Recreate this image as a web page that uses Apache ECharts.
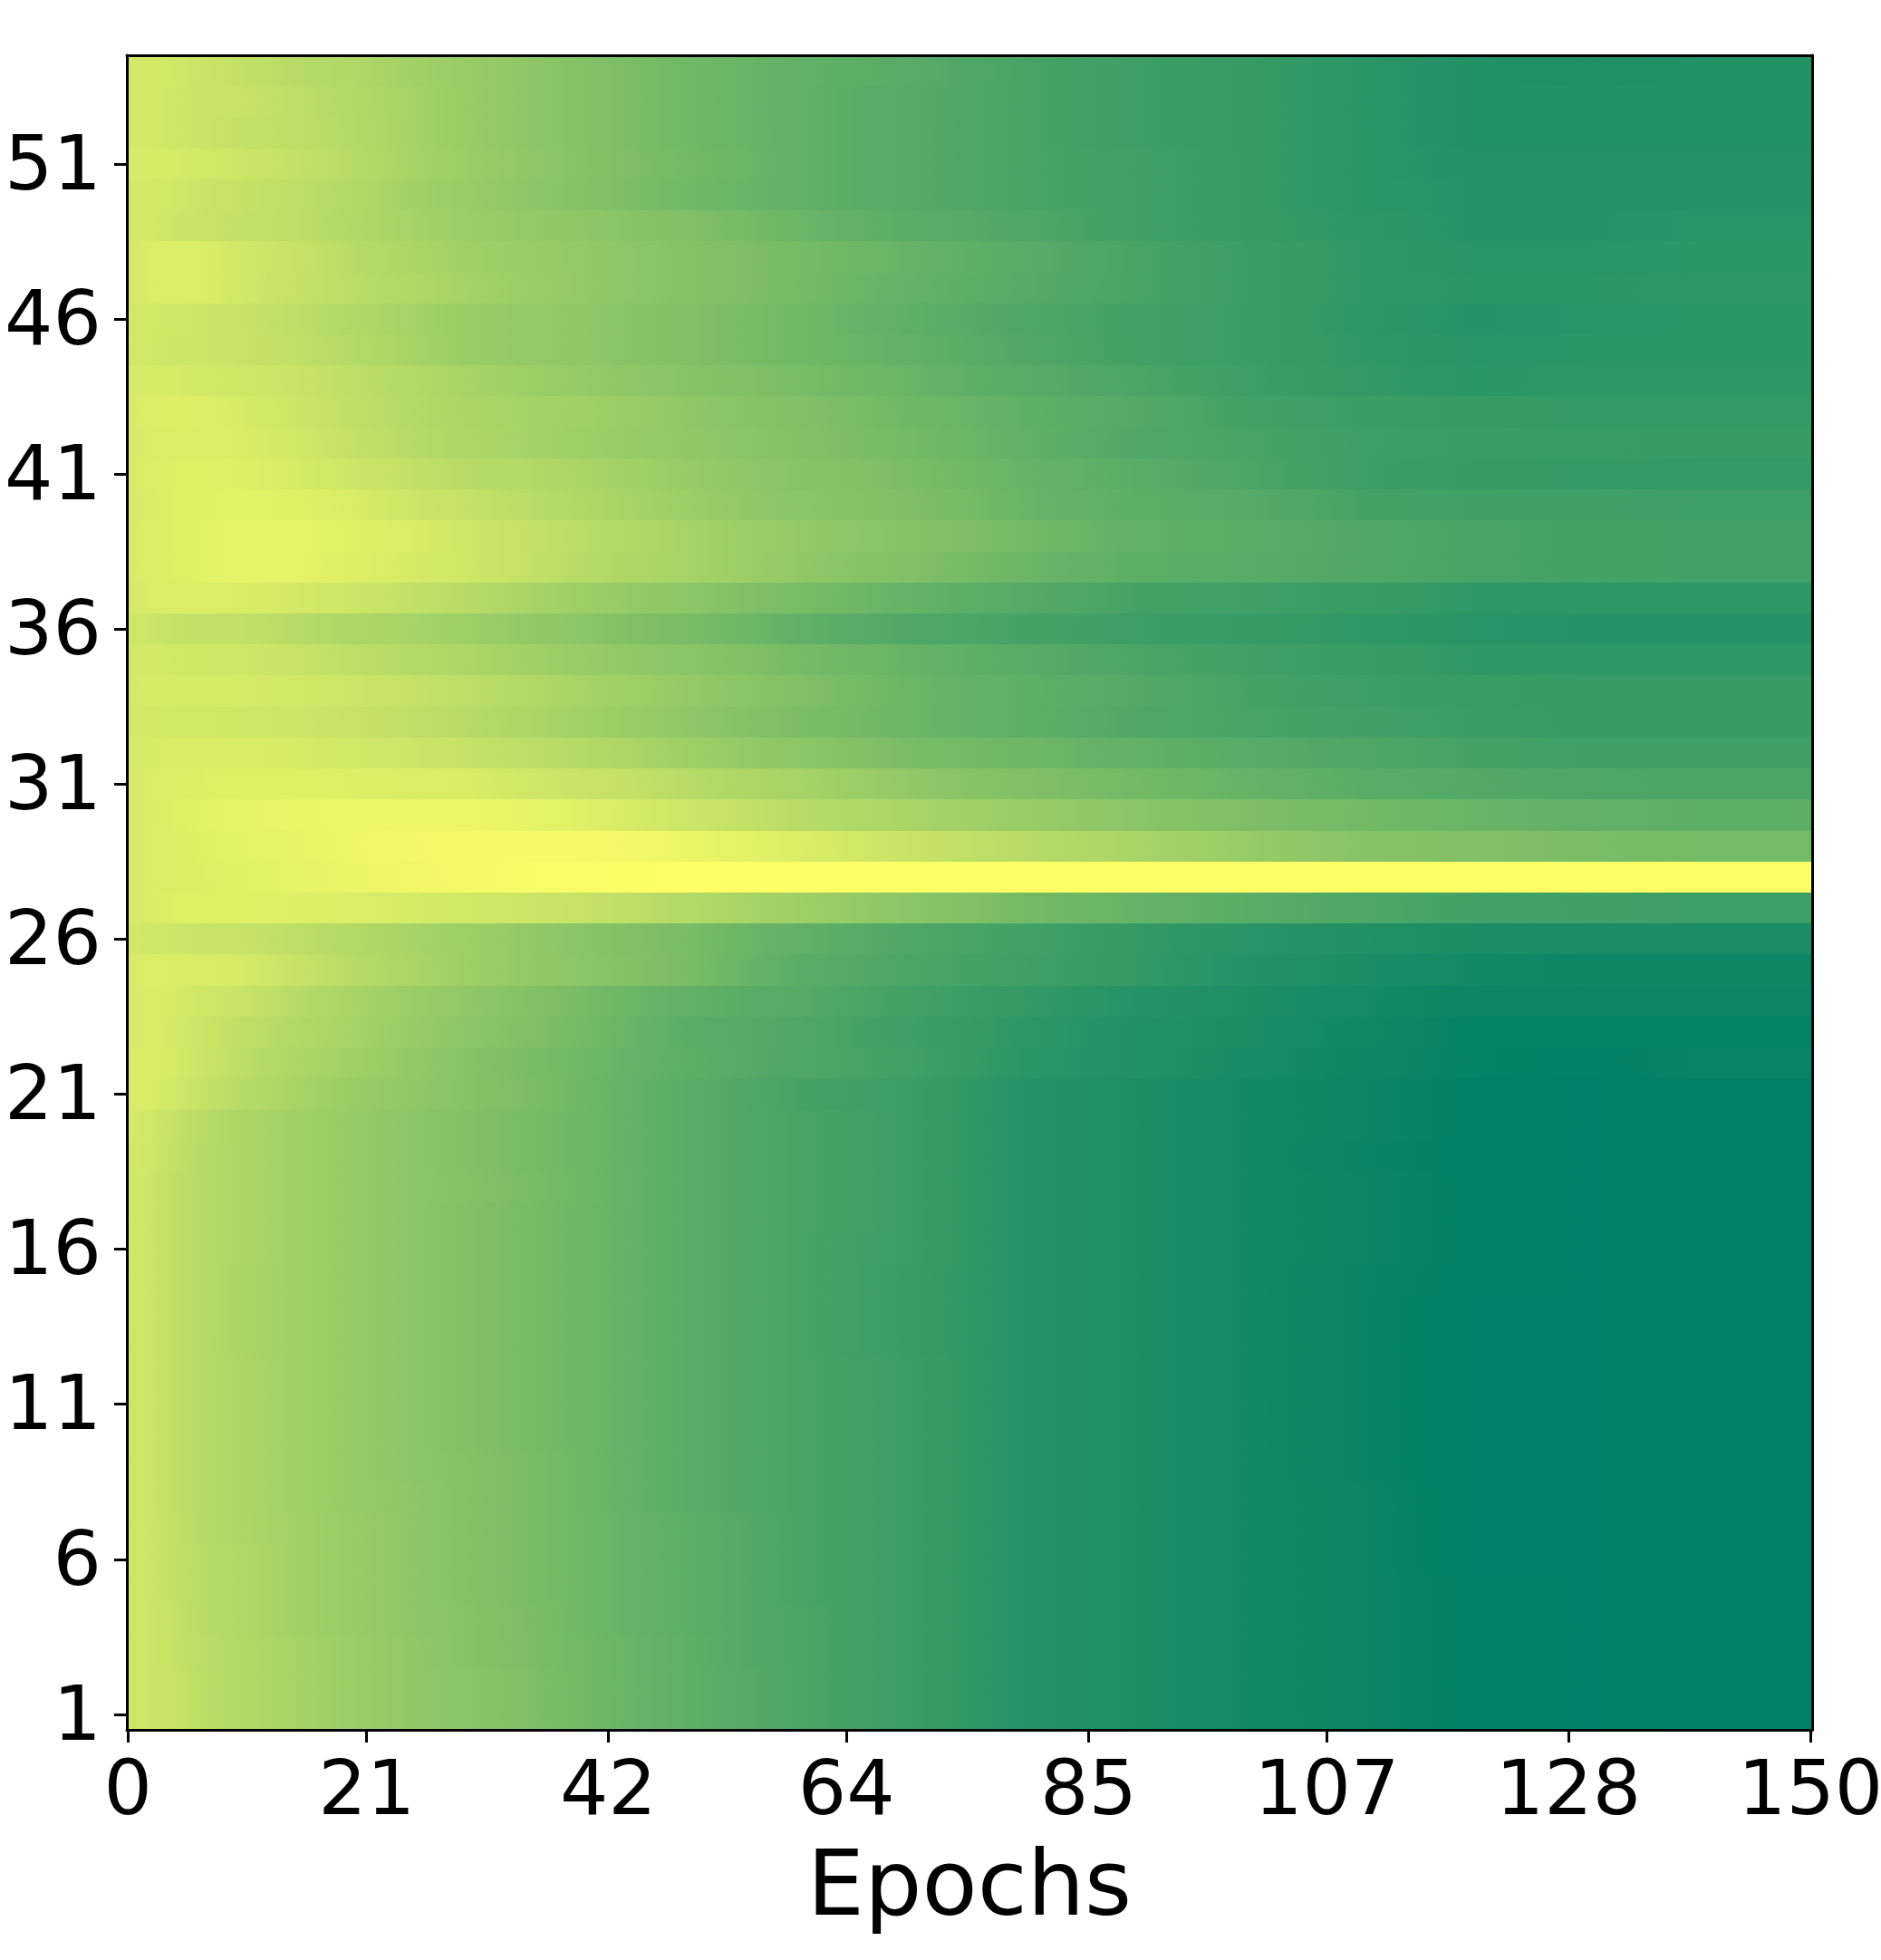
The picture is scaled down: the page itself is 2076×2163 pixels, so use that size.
<!DOCTYPE html>
<html>
<head>
<meta charset="utf-8">
<title>Epochs heatmap</title>
<script src="https://cdn.jsdelivr.net/npm/echarts@6/dist/echarts.min.js"></script>
<style>
  html, body { margin: 0; padding: 0; background: #fff; }
  #chart { width: 2076px; height: 2163px; }
</style>
</head>
<body>
<div id="chart"></div>
<script>
  // tick marks (position on the epoch scale, and the printed label)
  const xTickPos = [0.1, 21.35, 42.85, 64.05, 85.6, 106.8, 128.3, 149.85];
  const xTickLabels = ['0', '21', '42', '64', '85', '107', '128', '150'];
  const yTicks = [1, 6, 11, 16, 21, 26, 31, 36, 41, 46, 51];

  // epochs the colours were sampled at
  const sampleEpochs = [0, 2, 4, 7, 10, 15, 20, 25, 30, 35, 40, 45, 50, 55, 60, 65, 70, 75, 80, 90, 100, 110, 120, 130, 140];
  const lastEpoch = 150;
  const colorRamp = ['#008066', '#ffff66'];

  // one line per row, row 1 first; 0 = darkest green, 100 = brightest yellow
  const rowValues = [
    [82,80,78,73,70,65,61,57,54,50,45,41,37,33,29,26,23,19,15,11,7,4,1,0,1],
    [82,80,78,73,70,65,61,57,54,50,45,41,37,33,29,26,23,19,15,11,7,4,1,0,1],
    [82,80,77,73,70,65,61,57,53,49,45,41,37,32,29,26,23,19,15,11,7,4,1,0,1],
    [82,80,77,72,69,64,60,56,53,49,44,40,36,32,29,26,23,19,15,11,7,4,1,0,1],
    [82,80,76,72,69,64,60,56,52,48,44,40,36,32,28,26,23,19,15,11,7,4,1,0,1],
    [82,80,76,72,69,64,60,56,52,48,44,40,36,32,28,26,23,19,15,11,7,4,0,0,1],
    [82,80,76,71,68,64,60,56,52,48,44,40,36,32,28,26,23,19,15,11,7,4,0,0,1],
    [82,80,75,71,68,63,59,56,52,48,44,39,35,31,28,26,23,19,15,11,7,4,0,0,1],
    [82,80,75,71,68,63,59,55,52,48,44,39,35,31,28,26,23,19,15,11,7,3,0,0,1],
    [82,80,75,71,68,63,59,55,51,47,43,39,35,31,28,26,23,19,15,11,7,3,0,0,1],
    [82,80,75,71,68,63,59,55,51,47,43,39,35,31,28,26,23,19,15,11,7,3,0,0,1],
    [82,80,75,71,68,63,59,55,51,47,43,39,35,31,28,26,23,19,15,11,7,3,0,0,1],
    [82,80,75,71,67,63,59,55,51,47,43,39,35,31,28,25,22,19,15,11,7,3,0,0,1],
    [83,80,75,71,67,63,59,55,51,47,43,39,35,31,28,25,22,19,15,11,7,3,0,0,1],
    [83,80,75,71,67,63,59,55,51,47,43,39,35,31,28,25,22,19,15,11,7,3,1,0,1],
    [83,80,75,71,68,63,59,55,51,47,43,39,35,31,28,25,23,19,15,11,7,4,1,0,1],
    [83,80,75,71,68,63,59,55,51,47,43,39,35,31,28,26,23,19,15,11,7,4,1,0,1],
    [83,80,75,71,68,63,59,55,52,48,44,39,35,31,28,26,23,19,15,11,7,4,1,0,1],
    [83,81,76,71,68,63,59,55,51,47,43,39,35,31,28,26,23,19,15,11,7,3,1,0,1],
    [84,82,77,72,68,63,59,55,51,47,43,39,35,31,28,26,23,19,15,11,7,4,1,0,1],
    [85,85,82,76,72,66,60,57,53,49,44,39,35,31,27,25,23,19,15,11,7,4,1,0,1],
    [85,85,84,79,74,68,63,58,53,48,44,40,36,33,30,28,25,21,17,13,9,5,2,1,3],
    [84,85,83,79,75,70,65,60,55,51,46,41,35,33,31,27,24,21,18,13,10,6,2,2,2],
    [84,85,84,81,79,72,66,61,57,52,47,42,38,35,33,29,26,23,20,15,11,8,4,4,4],
    [84,86,85,85,84,78,72,67,62,58,55,51,47,41,35,32,29,27,25,20,14,10,7,5,5],
    [83,81,80,79,78,74,70,66,62,58,54,50,47,42,38,34,30,28,26,20,16,13,10,10,10],
    [84,85,87,88,88,87,86,84,82,80,78,74,70,66,62,58,54,50,46,40,35,30,26,25,24],
    [84,85,86,87,88,90,92,94,96,97,98,99,100,100,100,100,100,100,100,100,100,100,100,100,100],
    [84,85,86,88,89,91,93,95,96,96,96,95,92,89,86,82,78,75,72,66,59,53,50,48,46],
    [84,85,87,89,90,92,93,93,93,91,88,84,80,76,72,69,66,63,60,54,49,45,41,38,37],
    [84,85,86,87,88,88,87,86,85,82,79,76,72,68,65,61,57,53,50,45,40,35,32,30,29],
    [84,84,85,85,85,84,82,80,77,74,71,67,62,58,55,51,47,45,43,38,34,30,27,25,25],
    [83,83,82,82,81,80,78,75,72,68,64,60,56,52,48,45,42,39,37,31,28,25,23,21,21],
    [83,84,84,84,84,82,80,77,74,70,66,62,58,54,50,46,42,39,37,32,27,24,22,21,21],
    [83,83,82,81,81,78,74,71,68,64,60,57,54,50,46,43,40,37,34,29,25,22,19,18,18],
    [82,80,77,76,76,72,68,66,62,58,55,50,47,43,38,34,31,29,27,24,21,19,16,15,15],
    [83,85,86,86,85,83,80,76,72,67,62,58,55,50,47,43,39,36,33,27,25,22,19,18,18],
    [84,86,87,89,90,90,87,84,81,77,72,68,65,61,57,53,50,46,42,36,34,31,28,27,26],
    [84,86,87,89,90,90,88,85,81,77,73,69,65,61,58,55,52,49,45,38,35,31,28,27,26],
    [84,85,87,88,89,88,85,80,77,73,69,65,61,57,54,52,49,46,41,36,33,27,25,25,24],
    [84,86,87,88,87,84,80,76,72,70,67,63,59,56,53,51,47,44,40,35,29,24,21,20,20],
    [84,85,86,86,85,82,76,72,68,65,62,59,57,54,51,48,45,42,38,31,28,24,23,22,21],
    [84,86,87,86,84,80,75,71,67,65,63,60,56,53,50,47,43,41,37,32,26,23,21,20,20],
    [84,84,84,82,81,79,74,70,66,62,59,56,53,50,47,44,41,37,34,29,24,20,17,18,18],
    [83,82,80,80,78,75,71,66,60,58,57,53,50,47,44,41,38,35,31,26,23,19,16,17,17],
    [83,82,81,80,78,74,69,65,60,58,57,53,50,47,44,40,37,33,30,26,23,18,15,16,17],
    [83,85,86,85,82,77,73,69,65,61,58,55,52,49,46,42,39,36,33,28,23,19,17,17,18],
    [83,85,86,85,82,78,72,68,63,60,58,55,52,49,46,43,40,37,34,28,23,19,16,16,17],
    [83,83,80,78,76,74,69,65,61,58,56,53,50,46,42,38,35,33,30,25,21,18,15,15,16],
    [83,83,82,79,77,74,70,64,60,56,52,48,44,41,38,35,33,30,28,25,21,17,15,15,15],
    [84,84,84,82,80,76,72,66,61,57,53,49,45,42,38,35,33,30,28,25,21,17,14,14,14],
    [83,83,81,79,76,74,71,65,60,56,52,48,44,41,38,35,33,30,28,24,21,17,13,13,13],
    [83,83,81,79,78,74,70,65,60,56,52,48,44,41,38,35,33,30,28,24,21,17,13,13,13],
    [83,83,82,79,76,72,69,64,60,56,52,48,44,41,38,36,34,31,28,24,21,17,13,12,13]
  ];

  // each cell runs from one sample to the next: [from, to, row, value at from, value at to]
  const cells = [];
  rowValues.forEach((vals, i) => {
    vals.forEach((v, c) => {
      const last = c === vals.length - 1;
      cells.push([sampleEpochs[c], last ? lastEpoch : sampleEpochs[c + 1], i + 1, v, last ? v : vals[c + 1]]);
    });
  });

  const toColor = (v) => echarts.color.lerp(v / 100, colorRamp);

  const fontFamily = '"DejaVu Sans"';
  const spine = { show: true, onZero: false, lineStyle: { color: '#000', width: 3 } };

  const myChart = echarts.init(document.getElementById('chart'));
  myChart.setOption({
    backgroundColor: '#fff',
    animation: false,
    grid: { left: 140, top: 61, width: 1860, height: 1848, outerBoundsMode: 'none' },
    xAxis: [
      {
        type: 'value',
        min: 0,
        max: 150,
        z: 10,
        position: 'bottom',
        name: 'Epochs',
        nameLocation: 'middle',
        nameGap: 128,
        nameTextStyle: { fontFamily: fontFamily, fontSize: 100, color: '#000' },
        splitLine: { show: false },
        axisLine: spine,
        axisTick: { show: true, length: 14, customValues: xTickPos, lineStyle: { color: '#000', width: 3 } },
        axisLabel: {
          customValues: xTickPos,
          margin: 29,
          fontFamily: fontFamily,
          fontSize: 84,
          color: '#000',
          formatter: (v) => xTickLabels[xTickPos.indexOf(v)]
        }
      },
      {
        type: 'value',
        min: 0,
        max: 150,
        z: 10,
        position: 'top',
        splitLine: { show: false },
        axisLine: spine,
        axisTick: { show: false },
        axisLabel: { show: false }
      }
    ],
    yAxis: [
      {
        type: 'value',
        min: 0.5,
        max: 54.5,
        z: 10,
        position: 'left',
        splitLine: { show: false },
        axisLine: spine,
        axisTick: { show: true, length: 14, customValues: yTicks, lineStyle: { color: '#000', width: 3 } },
        axisLabel: {
          customValues: yTicks,
          margin: 28,
          verticalAlign: 'top',
          lineHeight: 12,
          fontFamily: fontFamily,
          fontSize: 84,
          color: '#000'
        }
      },
      {
        type: 'value',
        min: 0.5,
        max: 54.5,
        z: 10,
        position: 'right',
        splitLine: { show: false },
        axisLine: spine,
        axisTick: { show: false },
        axisLabel: { show: false }
      }
    ],
    series: [{
      type: 'custom',
      data: cells,
      encode: { x: [0, 1], y: 2 },
      renderItem: function (params, api) {
        const a = api.coord([api.value(0), api.value(2) + 0.5]);
        const b = api.coord([api.value(1), api.value(2) - 0.5]);
        const x0 = Math.round(a[0]);
        const y0 = Math.round(a[1]);
        return {
          type: 'rect',
          shape: { x: x0, y: y0, width: Math.round(b[0]) - x0, height: Math.round(b[1]) - y0 },
          style: {
            fill: new echarts.graphic.LinearGradient(0, 0, 1, 0, [
              { offset: 0, color: toColor(api.value(3)) },
              { offset: 1, color: toColor(api.value(4)) }
            ])
          }
        };
      }
    }]
  });
</script>
</body>
</html>
